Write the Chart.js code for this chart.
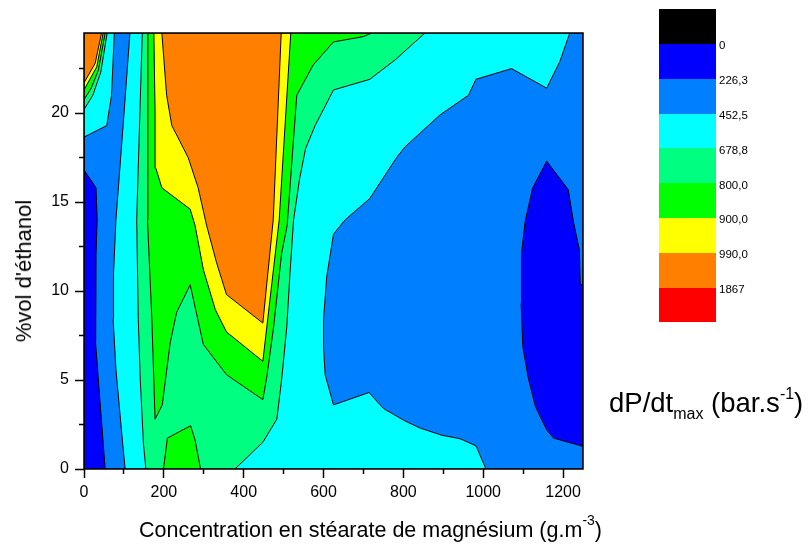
<!DOCTYPE html>
<html>
<head>
<meta charset="utf-8" />
<title>dP/dt max</title>
<script src="https://cdn.jsdelivr.net/npm/chart.js@4.4.0/dist/chart.umd.min.js"></script>
<style>
  body { margin: 0; background: #fff; font-family: "Liberation Sans", Arial, sans-serif; color: #000; }
  #wrap { position: relative; width: 809px; height: 549px; overflow: hidden; }
  #c { position: absolute; left: 0; top: 0; }
  #bar { position: absolute; left: 659px; top: 9.3px; width: 57px; }
  #bar div { height: 34.8px; }
  .lvl { position: absolute; left: 719px; font-size: 11.5px; line-height: 12px; white-space: nowrap; }
  #ytitle { position: absolute; left: 23.5px; top: 271px; font-size: 22px; white-space: nowrap;
            transform: translate(-50%, -50%) rotate(-90deg); }
  #xtitle { position: absolute; left: 139px; top: 516px; font-size: 21.5px; line-height: 28px; white-space: nowrap; }
  #ztitle { position: absolute; left: 609px; top: 389px; font-size: 27.5px; line-height: 28px; white-space: nowrap; }
  .up { position: relative; font-size: 14px; top: -12px; }
  #ztitle .up { font-size: 16px; top: -13px; }
  .dn { position: relative; font-size: 16px; top: 7px; }
</style>
</head>
<body>
<div id="wrap">
  <canvas id="c" width="809" height="549"></canvas>
  <div id="bar"></div>
  <div id="ytitle">%vol d'éthanol</div>
  <div id="xtitle">Concentration en stéarate de magnésium (g.m<span class="up">-3</span>)</div>
  <div id="ztitle">dP/dt<span class="dn">max</span> (bar.s<span class="up">-1</span>)</div>
</div>
<script>
// level boundaries of the colour scale
const levelLabels = ["0", "226,3", "452,5", "678,8", "800,0", "900,0", "990,0", "1867"];
const levelColors = ["#000000", "#0000ff", "#0080ff", "#00ffff", "#00ff80", "#00ff00", "#ffff00", "#ff8000", "#ff0000"];

const xTickValues = [0, 200, 400, 600, 800, 1000, 1200];
const xMinorValues = [100, 300, 500, 700, 900, 1100];
const yTickValues = [0, 5, 10, 15, 20];
const yMinorValues = [2.5, 7.5, 12.5, 17.5, 22.5];

// contour outlines, [concentration g/m3, %vol]
const domain = [[0, 0], [1250, 0], [1250, 24.5], [0, 24.5]];

// < 226,3
const lowLeft = [[0, 16.8], [30, 15.8], [33, 14.0], [30, 12], [29, 10.2], [29, 7.1], [36, 5.0], [53, 0], [0, 0]];
const lowRight = [[1159, 17.3], [1213, 15.7], [1226, 13.9], [1241, 12.3], [1243, 10.4], [1250, 10.3], [1250, 1.27],
  [1176, 1.74], [1159, 2.2], [1131, 3.5], [1113, 5.1], [1099, 6.9], [1095, 9.3], [1096, 12.1], [1105, 13.9], [1124, 15.8]];

// >= 452,5
const cyanCorner = [[0, 24.5], [76, 24.5], [69, 21.0], [57, 19.3], [0, 18.65]];
const cyanMain = [[115, 24.5], [1217, 24.5], [1192, 22.9], [1159, 21.4], [1071, 22.5], [982, 21.9], [963, 21.0],
  [892, 19.9], [804, 18.1], [783, 17.5], [716, 15.2], [654, 14.0], [625, 13.2], [608, 10.8], [600, 8.4], [600, 6.9],
  [604, 5.3], [625, 3.6], [714, 4.3], [750, 3.4], [804, 2.7], [842, 2.3], [896, 1.9], [942, 1.7], [982, 1.3],
  [1007, 0], [103, 0], [97, 1.4], [80, 5.6], [73, 8.4], [74, 11], [80, 14], [98, 19.3]];

// >= 678,8
const springCorner = [[0, 24.5], [58, 24.5], [42, 22.3], [22, 21.0], [0, 20.2]];
const springMain = [[146, 24.5], [854, 24.5], [780, 23.0], [716, 21.9], [625, 21.3], [579, 19.3], [555, 18.0],
  [540, 16.3], [525, 14.0], [516, 11.0], [508, 8.0], [495, 5.0], [483, 2.8], [448, 1.5], [378, 0], [155, 0],
  [149, 1.4], [141, 5], [136, 8.4], [132, 14]];

// >= 800
const greenCorner = [[0, 24.5], [53, 24.5], [36, 22.4], [18, 21.4], [0, 20.75]];
const greenMain = [[160, 24.5], [721, 24.5], [700, 24.3], [625, 24.0], [574, 22.7], [533, 21.0], [509, 13.7],
  [495, 12.1], [474, 7.8], [458, 5.2], [448, 3.9], [357, 5.3], [299, 7.0], [266, 10.35], [232, 8.8], [216, 7.1],
  [196, 3.6], [178, 2.8], [170, 8.4], [159, 14.0]];
const greenBump = [[199, 0], [209, 1.74], [267, 2.43], [278, 1.65], [292, 0]];

// >= 900
const yellowCorner = [[0, 24.5], [48, 24.5], [32, 22.6], [0, 21.3]];
const yellowMain = [[175, 24.5], [518, 24.5], [489, 14.0], [448, 6.05], [357, 7.7], [329, 8.95], [299, 11.2],
  [278, 13.7], [266, 14.6], [195, 15.8], [180, 16.9], [178, 20.0]];

// >= 990
const orangeCorner = [[0, 24.5], [44, 24.5], [28, 22.8], [0, 21.7]];
const orangeMain = [[195, 24.5], [494, 24.5], [474, 14.0], [448, 8.2], [357, 9.8], [332, 11.6], [307, 13.7],
  [286, 15.8], [261, 17.5], [220, 19.3], [207, 21.0]];

// painted in this order, later ones on top
const layers = [
  [domain, 2], [lowLeft, 1], [lowRight, 1],
  [cyanCorner, 3], [cyanMain, 3],
  [springCorner, 4], [springMain, 4],
  [greenCorner, 5], [greenMain, 5], [greenBump, 5],
  [yellowCorner, 6], [yellowMain, 6],
  [orangeCorner, 7], [orangeMain, 7]
];

// colour bar and its labels
const bar = document.getElementById("bar");
const wrap = document.getElementById("wrap");
levelColors.forEach(col => {
  const d = document.createElement("div");
  d.style.background = col;
  bar.appendChild(d);
});
levelLabels.forEach((txt, i) => {
  const d = document.createElement("div");
  d.className = "lvl";
  d.textContent = txt;
  d.style.top = (9.3 + (i + 1) * 34.8 + 1.3 - 6) + "px";
  wrap.appendChild(d);
});

const datasets = layers.map(([pts, lvl], i) => {
  const data = pts.map(([x, y]) => ({ x, y }));
  data.push({ x: pts[0][0], y: pts[0][1] });
  return {
    data,
    backgroundColor: levelColors[lvl],
    borderColor: "#000",
    borderWidth: 1,
    fill: "shape",
    tension: 0,
    pointRadius: 0,
    order: layers.length - i
  };
});

const frame = {
  id: "frame",
  afterDatasetsDraw(chart) {
    const { ctx, chartArea: a } = chart;
    ctx.save();
    ctx.strokeStyle = "#000";
    ctx.lineWidth = 1.5;
    ctx.strokeRect(a.left, a.top, a.right - a.left, a.bottom - a.top);
    ctx.restore();
  }
};

const tickFont = { family: "'Liberation Sans', Arial, sans-serif", size: 16 };
const asTicks = vals => scale => { scale.ticks = vals.map(v => ({ value: v })); };
const plain = v => String(v);

new Chart(document.getElementById("c"), {
  type: "line",
  data: { datasets },
  plugins: [frame],
  options: {
    responsive: false,
    animation: false,
    events: [],
    layout: { padding: { top: 33, right: 226, left: 0, bottom: 0 } },
    plugins: { legend: { display: false }, tooltip: { enabled: false } },
    scales: {
      x: {
        type: "linear", min: 0, max: 1250,
        afterFit: s => { s.height = 80; },
        afterBuildTicks: asTicks(xTickValues),
        ticks: { font: tickFont, color: "#000", padding: 5, maxRotation: 0, autoSkip: false, callback: plain },
        grid: { drawOnChartArea: false, tickLength: 9, tickWidth: 1.5, tickColor: "#000" },
        border: { display: false }
      },
      y: {
        type: "linear", min: 0, max: 24.5,
        afterFit: s => { s.width = 84; },
        afterBuildTicks: asTicks(yTickValues),
        ticks: { font: tickFont, color: "#000", padding: 6, autoSkip: false, callback: plain },
        grid: { drawOnChartArea: false, tickLength: 9, tickWidth: 1.5, tickColor: "#000" },
        border: { display: false }
      },
      xMinor: {
        axis: "x", type: "linear", min: 0, max: 1250, position: { y: 0 },
        afterBuildTicks: asTicks(xMinorValues),
        ticks: { display: false },
        grid: { drawOnChartArea: false, tickLength: 5, tickWidth: 1.5, tickColor: "#000" },
        border: { display: false }
      },
      yMinor: {
        axis: "y", type: "linear", min: 0, max: 24.5, position: { x: 0 },
        afterBuildTicks: asTicks(yMinorValues),
        ticks: { display: false },
        grid: { drawOnChartArea: false, tickLength: 5, tickWidth: 1.5, tickColor: "#000" },
        border: { display: false }
      }
    }
  }
});
</script>
</body>
</html>
